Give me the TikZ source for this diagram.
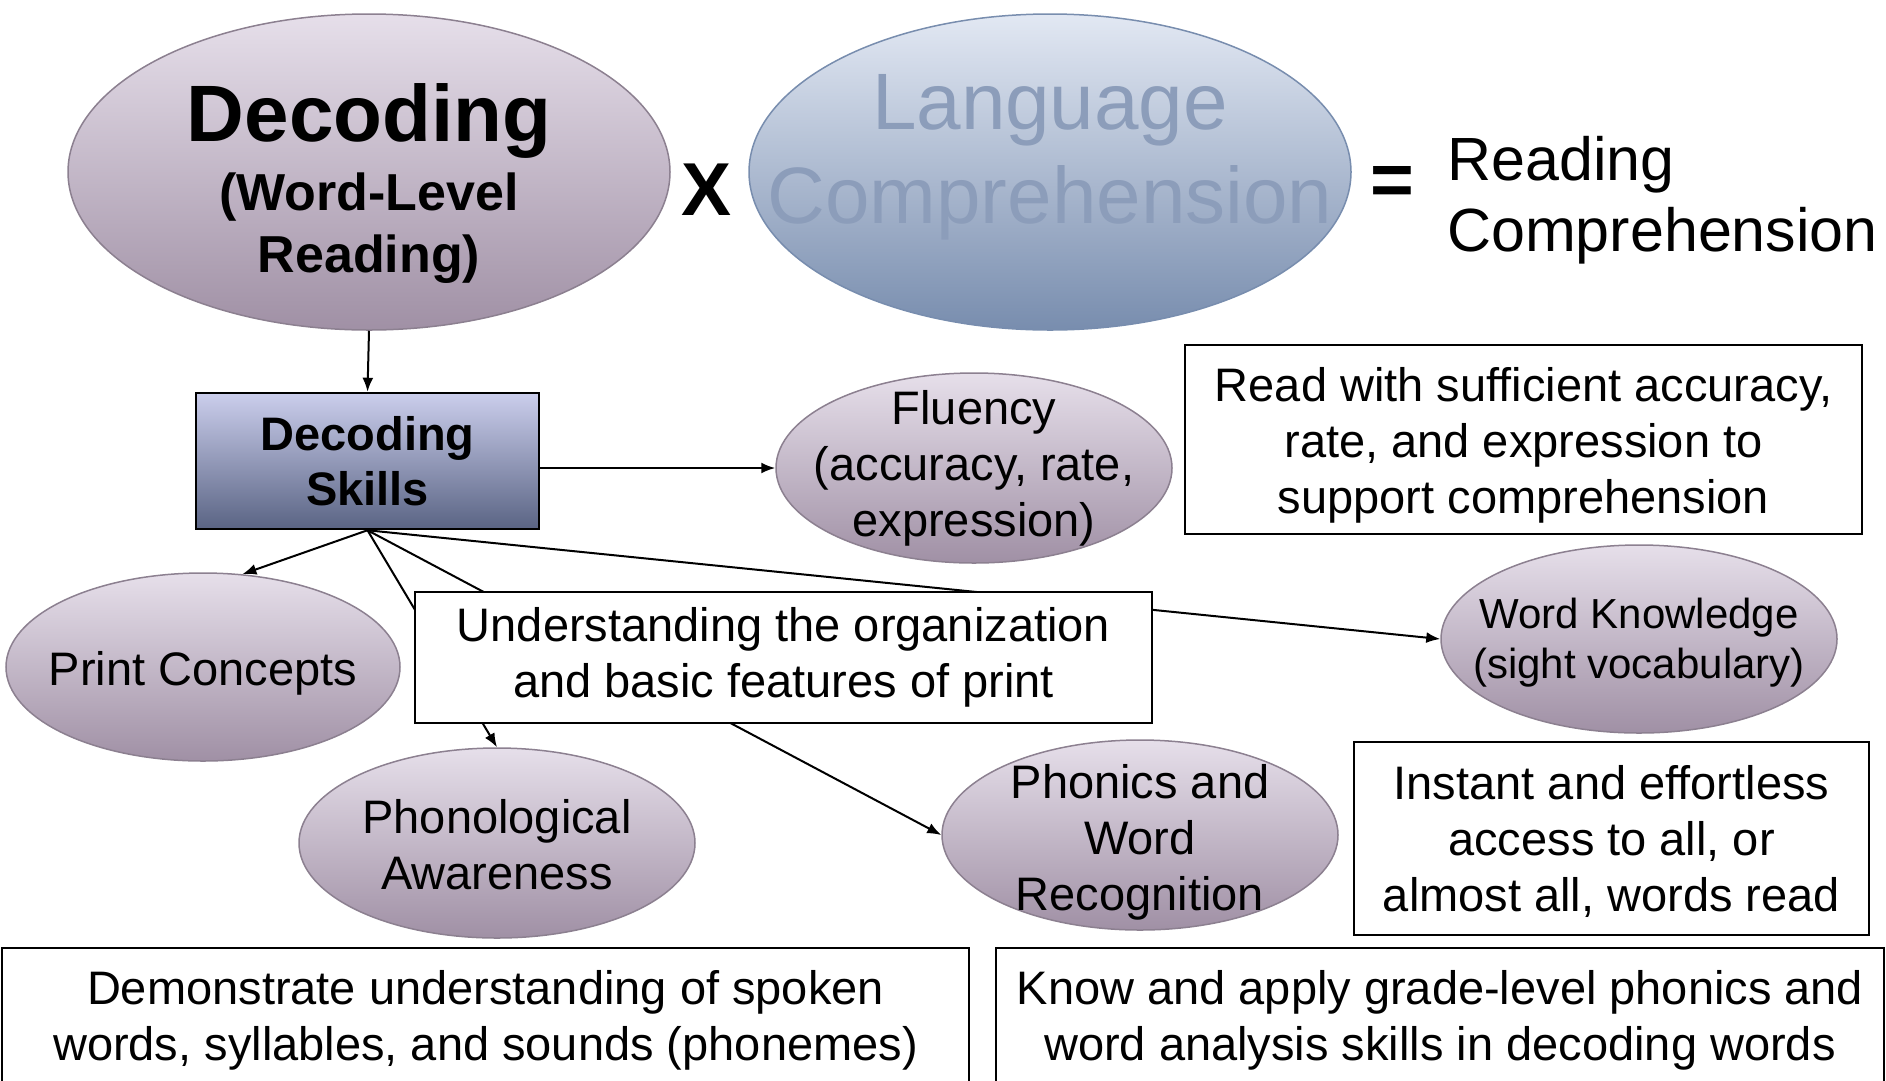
\documentclass[tikz,border=0pt]{standalone}
\usepackage{fontspec}
\setmainfont{Liberation Sans}
\usetikzlibrary{shapes.geometric,arrows.meta}
\definecolor{mauvetop}{HTML}{E6DFEA}
\definecolor{mauvebottom}{HTML}{A090A5}
\definecolor{mauveedge}{HTML}{8C8090}
\definecolor{bluetop}{HTML}{E2E8F3}
\definecolor{bluebottom}{HTML}{788DAE}
\definecolor{bluetext}{HTML}{8C9DBA}
\definecolor{slatetop}{HTML}{CBCEEC}
\definecolor{slatebottom}{HTML}{5A6484}
\newcommand{\liftby}[1]{\rule{0pt}{#1}}
\tikzset{
    mauve-ellipse/.style = {ellipse, draw=mauveedge, line width=1.5pt, top color=mauvetop, bottom color=mauvebottom, inner sep=-80pt, align=center, font=\fontsize{47}{56}\selectfont},
    skills-box/.style = {rectangle, draw=black, line width=2.5pt, top color=slatetop, bottom color=slatebottom, inner sep=0pt, align=center, font=\fontsize{47}{55}\selectfont\bfseries},
    note-box/.style = {rectangle, draw=black, line width=2pt, fill=white, inner sep=0pt, align=center, font=\fontsize{47}{56}\selectfont},
    link/.style = {line width=2pt, -{Latex[length=14pt,width=11pt]}},
}
\begin{document}
\begin{tikzpicture}[x=1pt, y=-1pt]
\clip (0,0) rectangle (1886,1080);
% the formula
\node[mauve-ellipse, minimum width=602pt, minimum height=316pt, font=\fontsize{52}{62}\selectfont\bfseries] (decoding) at (369,172) {{\fontsize{80}{82}\selectfont\liftby{82pt}Decoding}\\[7pt](Word-Level\\Reading)};
\node[font=\fontsize{75}{80}\selectfont\bfseries] (times) at (707,190) {X};
\node[ellipse, draw=bluebottom, line width=1.5pt, top color=bluetop, bottom color=bluebottom, inner sep=-80pt, minimum width=602pt, minimum height=316pt, text=bluetext, align=center, font=\fontsize{80}{94}\selectfont] (language) at (1050,172) {Language\\Comprehension\rule[-47pt]{0pt}{47pt}};
\node[font=\fontsize{75}{80}\selectfont\bfseries] (equals) at (1392,186) {=};
\node[anchor=west, align=left, inner sep=0pt, font=\fontsize{61}{71}\selectfont] (result) at (1447,200) {Reading\\Comprehension};
% skills
\node[skills-box, minimum width=343pt, minimum height=136pt] (skills) at (367.5,461) {Decoding\\Skills};
\node[mauve-ellipse, minimum width=396pt, minimum height=190pt] (fluency) at (974,468) {Fluency\\(accuracy, rate,\\expression)};
\node[note-box, minimum width=677pt, minimum height=189pt] (fluency-note) at (1523.5,439.5) {\liftby{46pt}Read with sufficient accuracy,\\rate, and expression to\\support comprehension};
\node[mauve-ellipse, minimum width=394pt, minimum height=188pt] (print) at (203,667) {\liftby{46pt}Print Concepts};
\node[mauve-ellipse, minimum width=396pt, minimum height=188pt, font=\fontsize{42}{50}\selectfont] (word) at (1639,639) {\liftby{37pt}Word Knowledge\\(sight vocabulary)};
\node[mauve-ellipse, minimum width=396pt, minimum height=190pt] (phono) at (497,843) {\liftby{38pt}Phonological\\Awareness};
\node[mauve-ellipse, minimum width=396pt, minimum height=190pt] (phonics) at (1140,835) {\liftby{48pt}Phonics and\\Word\\Recognition};
\node[note-box, minimum width=515pt, minimum height=193pt] (word-note) at (1611.5,838.5) {\liftby{40pt}Instant and effortless\\access to all, or\\almost all, words read};
\node[note-box, minimum width=967pt, minimum height=138pt] (phono-note) at (485.5,1017) {\liftby{40pt}Demonstrate understanding of spoken\\words, syllables, and sounds (phonemes)};
\node[note-box, minimum width=888pt, minimum height=138pt] (phonics-note) at (1440,1017) {\liftby{40pt}Know and apply grade-level phonics and\\word analysis skills in decoding words};
% arrows
\draw[link] (decoding.south) -- (skills.north);
\draw[link] (skills.east |- fluency.west) -- (fluency.west);
\draw[link] (skills.south) -- (print.67);
\draw[link] (skills.south) -- (phono.north);
\draw[link] (skills.south) -- (phonics.west);
\draw[link] (skills.south) -- (word.west);
% box over the lines
\node[note-box, minimum width=737pt, minimum height=131pt] (print-note) at (783.5,657.5) {Understanding the organization\\and basic features of print};
\end{tikzpicture}
\end{document}
